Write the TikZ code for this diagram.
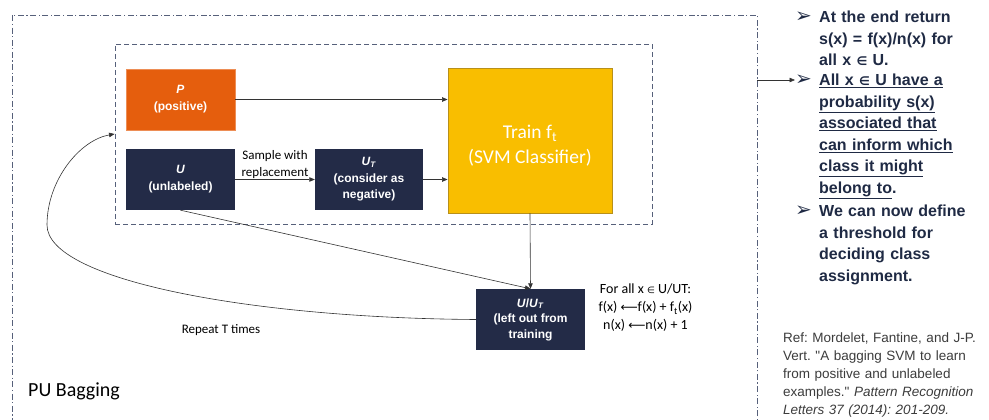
\documentclass[tikz,border=0pt]{standalone}
\usepackage{fontspec}
\setmainfont{Carlito}
\newfontfamily\arialf{Liberation Sans}
\newfontfamily\symf{DejaVu Sans}
\usetikzlibrary{arrows.meta}
\frenchspacing

\definecolor{navybox}{HTML}{232B47}
\definecolor{orangebox}{HTML}{E55E0D}
\definecolor{yellowbox}{HTML}{F9BE00}
\definecolor{yellowedge}{HTML}{B8901A}
\definecolor{frameline}{HTML}{56607A}
\definecolor{bullettext}{HTML}{1F2A44}
\definecolor{reftext}{HTML}{3C3C3C}

\newcommand\elem{{\symf\fontsize{12}{12}\selectfont ∈}}

\tikzset{
  box/.style={rectangle, inner sep=0pt, align=center, text=white,
    font=\arialf\bfseries\fontsize{12}{17}\selectfont},
  posbox/.style={box, fill=orangebox, draw=orangebox!70!white, line width=0.6pt,
    minimum width=109pt, minimum height=61pt},
  setbox/.style={box, fill=navybox, minimum width=109pt, minimum height=61pt},
  trainbox/.style={rectangle, fill=yellowbox, draw=yellowedge, line width=0.8pt,
    minimum width=164pt, minimum height=145pt, align=center, text=white,
    font=\fontsize{19.5}{25}\selectfont},
  innerframe/.style={draw=frameline, line width=0.9pt, dash pattern=on 5pt off 3pt,
    minimum width=537pt, minimum height=180pt, inner sep=0pt},
  outerframe/.style={draw=frameline, line width=0.8pt,
    dash pattern=on 6pt off 2.5pt on 1.2pt off 2.5pt,
    minimum width=745pt, minimum height=425pt, inner sep=0pt},
  conn/.style={draw=black!80, line width=0.6pt, -{Triangle[length=5.5pt,width=4.5pt]}},
  plain/.style={inner sep=1pt, font=\fontsize{13}{17}\selectfont, text=black},
  bulletmark/.style={inner sep=0pt, anchor=west, text=bullettext,
    font=\symf\bfseries\fontsize{20}{20}\selectfont},
  bullettxt/.style={inner sep=0pt, anchor=base west, text width=172pt, align=left,
    text=bullettext, font=\arialf\bfseries\fontsize{16}{21.6}\selectfont},
}

\begin{document}
\begin{tikzpicture}[x=1pt, y=-1pt]
\useasboundingbox (0,0) rectangle (989,420);

% frames
\node[outerframe] (outer) at (384.5,227.5) {};
\node[innerframe] (inner) at (383.5,134) {};

% data sets and classifier
\node[posbox] (P) at (180.5,99.5) {\textit{P}\\(positive)};
\node[setbox] (U) at (180.5,179.5) {\textit{U}\\(unlabeled)};
\node[setbox, minimum width=108pt, font=\arialf\bfseries\fontsize{12}{16.5}\selectfont]
  (UT) at (369,179.5) {\textit{U}\textsubscript{\textit{T}}\\(consider as\\negative)};
\node[trainbox] (train) at (530,140.5)
  {\rule{0pt}{23pt}Train f\textsubscript{t}\\(SVM Classifier)};
\node[setbox, font=\arialf\bfseries\fontsize{12}{15.5}\selectfont]
  (uut) at (530.5,319.5) {\textit{U}/\textit{U}\textsubscript{\textit{T}}\\(left out from\\training};

% connectors
\draw[conn] (P.east) -- (P.east -| train.west);
\draw[conn] (U.east) -- (UT.west)
  node[midway, anchor=south, plain, align=center, inner sep=0.5pt] (sample) {Sample with\\replacement};
\draw[conn] (UT.east) -- (UT.east -| train.west);
\draw[conn] (train.south) -- (uut.north);
\draw[conn] (U.south) -- (uut.north);
\draw[conn] (uut.west) .. controls (250,318) and (47,280) .. (47,225)
  coordinate (loopleft)
  .. controls (47,180) and (80,140) .. (inner.west);

% labels
\node[plain] (repeat) at (221,330) {Repeat T times};
\node[plain, anchor=west, font=\fontsize{20}{24}\selectfont] (title) at (27,391) {PU Bagging};
\node[plain, align=center, font=\fontsize{14}{18}\selectfont] (update) at (645.5,308)
  {For all x {\symf\fontsize{9}{9}\selectfont ∈} U/UT:\\
   f(x) {\symf\fontsize{12}{12}\selectfont ⟵}f(x) + f\textsubscript{t}(x)\\
   n(x) {\symf\fontsize{12}{12}\selectfont ⟵}n(x) + 1};

% conclusions
\node[bulletmark] (b1) at (795,17) {➢};
\node[bullettxt] (t1) at (819,22.5)
  {At the end return\\ s(x) = f(x)/n(x) for\\ all x \elem{} U.};
\node[bulletmark] (b2) at (795,80) {➢};
\node[bullettxt] (t2) at (819,85.5)
  {\underline{All x \elem{} U have a}\\ \underline{probability s(x)}\\
   \underline{associated that}\\ \underline{can inform which}\\
   \underline{class it might}\\ \underline{belong to}.};
\node[bulletmark] (b3) at (795,211) {➢};
\node[bullettxt] (t3) at (819,216.5)
  {We can now define\\ a threshold for\\ deciding class\\ assignment.};

\draw[conn] (outer.east |- b2) -- (b2.west);

% reference
\node[inner sep=0pt, anchor=base west, text width=215pt, align=left, text=reftext,
  font=\arialf\fontsize{13.5}{18}\selectfont] (ref) at (783,342)
  {Ref: Mordelet, Fantine, and J-P.\\ Vert. "A bagging SVM to learn\\
   from positive and unlabeled\\ examples." \textit{Pattern Recognition}\\
   \textit{Letters 37 (2014): 201-209.}};
\end{tikzpicture}
\end{document}
